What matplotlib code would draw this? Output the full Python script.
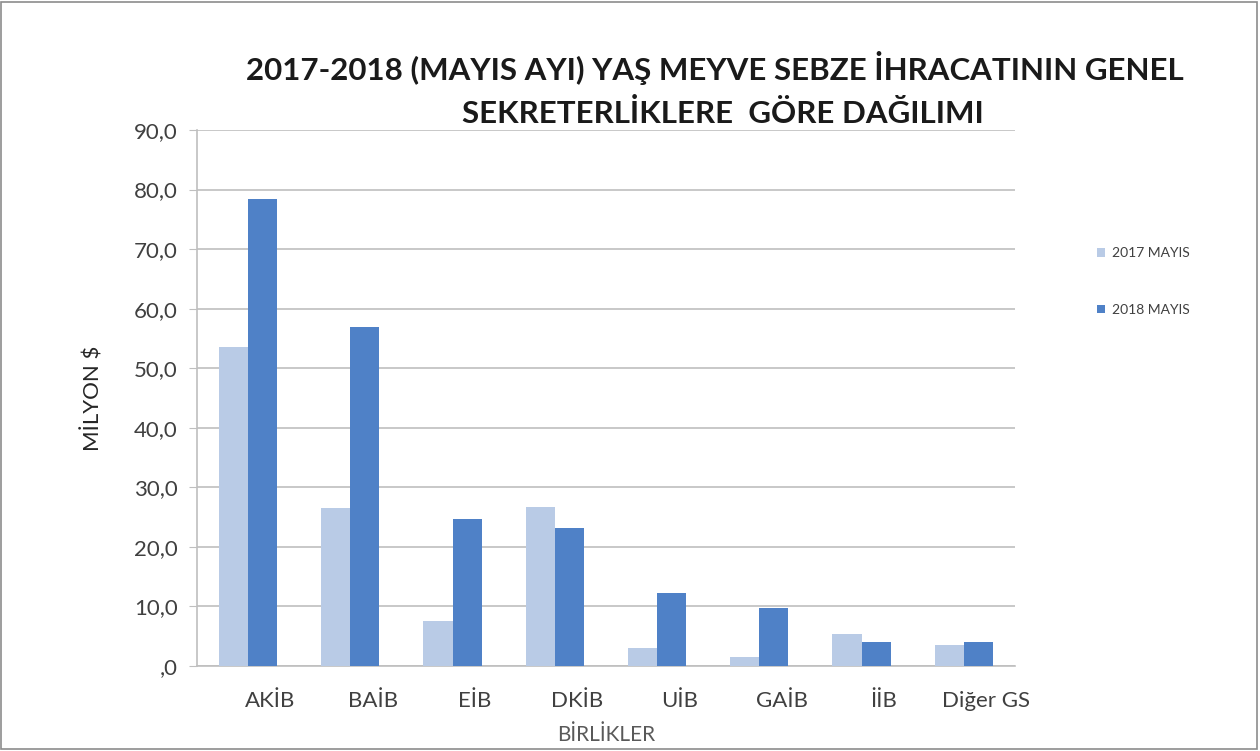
import matplotlib
matplotlib.use("Agg")
import matplotlib.pyplot as plt
import numpy as np
from matplotlib.patches import Rectangle

birlikler = ["AKİB", "BAİB", "EİB", "DKİB", "UİB", "GAİB", "İİB", "Diğer GS"]
mayis_2017 = [53.5, 26.5, 7.6, 26.7, 3.0, 1.5, 5.4, 3.5]
mayis_2018 = [78.4, 56.9, 24.7, 23.2, 12.2, 9.7, 4.0, 4.0]
y_ticks = [0, 10, 20, 30, 40, 50, 60, 70, 80, 90]
y_tick_labels = [",0", "10,0", "20,0", "30,0", "40,0", "50,0", "60,0", "70,0", "80,0", "90,0"]

plt.rcParams['font.family'] = ['Lato', 'DejaVu Sans']

fig = plt.figure(figsize=(12.6, 7.51), dpi=100)
fig.patch.set_facecolor("white")
fig.patches.append(Rectangle((0.001, 0.002), 0.997, 0.996, transform=fig.transFigure,
                             fill=False, edgecolor="#8c8c8c", linewidth=1.2))

ax = fig.add_axes([0.1563, 0.1132, 0.6492, 0.7137])

x = np.arange(len(birlikler))
w = 0.285
ax.bar(x - w / 2, mayis_2017, w, color="#b9cbe6", label="2017 MAYIS", zorder=3)
ax.bar(x + w / 2, mayis_2018, w, color="#4f81c7", label="2018 MAYIS", zorder=3)

ax.set_xlim(-0.5, len(birlikler) - 0.5)
ax.set_ylim(0, 90)
ax.set_yticks(y_ticks)
ax.set_yticklabels(y_tick_labels, fontsize=16, color="#404040")
ax.yaxis.grid(True, color="#bfbfbf", linewidth=1.2, zorder=0)
ax.tick_params(axis="y", length=6, color="#bfbfbf", pad=8)

ax.set_xticks(x + 0.22)
ax.set_xticklabels(birlikler, fontsize=16, color="#404040")
ax.tick_params(axis="x", length=0, pad=18)

for s in ["top", "right"]:
    ax.spines[s].set_visible(False)
for s in ["left", "bottom"]:
    ax.spines[s].set_color("#bfbfbf")
    ax.spines[s].set_linewidth(1.2)

ax.set_ylabel("MİLYON $", fontsize=16, color="#262626", labelpad=22)
ax.set_xlabel("BİRLİKLER", fontsize=15, color="#595959", labelpad=10)

fig.text(0.567, 0.91, "2017-2018 (MAYIS AYI) YAŞ MEYVE SEBZE İHRACATININ GENEL",
         ha="center", va="center", fontsize=22.5, fontweight="bold", color="#1a1a1a")
fig.text(0.574, 0.849, "SEKRETERLİKLERE  GÖRE DAĞILIMI",
         ha="center", va="center", fontsize=22.5, fontweight="bold", color="#1a1a1a")

leg = ax.legend(loc="center left", bbox_to_anchor=(1.085, 0.717), frameon=False,
                fontsize=10, handlelength=0.6, handleheight=0.6, labelspacing=3.2,
                handletextpad=0.5)
for t in leg.get_texts():
    t.set_color("#404040")

fig.savefig("out.png", dpi=100)
